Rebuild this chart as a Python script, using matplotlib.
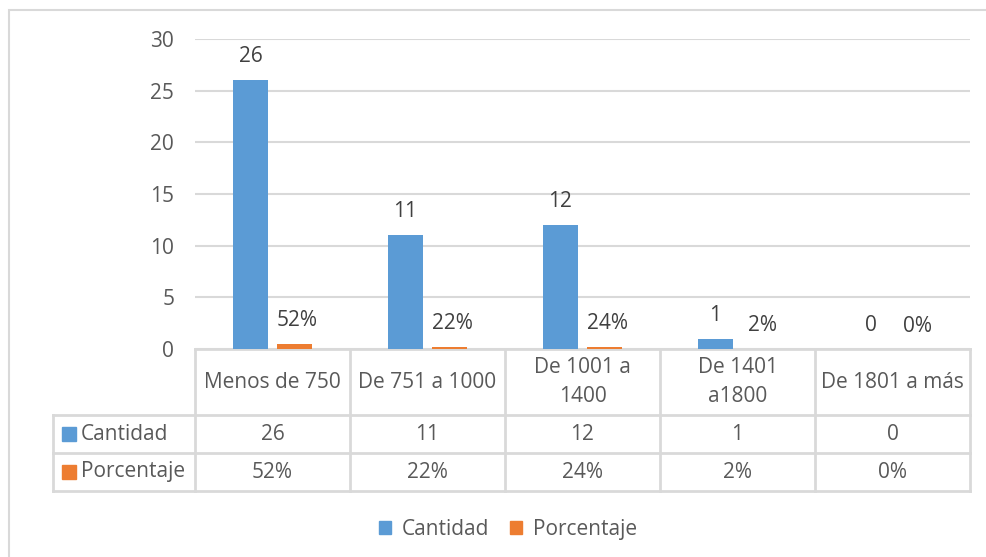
import matplotlib.pyplot as plt
import matplotlib.patches as patches
import numpy as np

plt.rcParams['font.family'] = ['Open Sans', 'DejaVu Sans']

categorias = ["Menos de 750", "De 751 a 1000", "De 1001 a\n1400", "De 1401\na1800", "De 1801 a más"]
cantidad = [26, 11, 12, 1, 0]
porcentaje = [0.52, 0.22, 0.24, 0.02, 0.0]

azul = '#5b9bd5'
naranja = '#ed7d31'
gris_txt = '#595959'
gris_lin = '#d9d9d9'
fs = 15

fig = plt.figure(figsize=(9.86, 5.57), dpi=100)
ax = fig.add_axes([195/986, 1 - 349/557, 775/986, 310/557])

x = np.arange(len(categorias))
ancho = 0.226
off = 0.142
b1 = ax.bar(x - off, cantidad, ancho, color=azul, zorder=3)
b2 = ax.bar(x + off, porcentaje, ancho, color=naranja, zorder=3)

# etiquetas sobre las barras
for xi, v in zip(x, cantidad):
    ax.annotate(str(v), (xi - off, v), xytext=(0, 17), textcoords='offset points',
                ha='center', va='center', fontsize=fs, color='#404040')
for xi, v in zip(x, porcentaje):
    ax.annotate(f"{v:.0%}", (xi + off, v), xytext=(2, 16.5), textcoords='offset points',
                ha='center', va='center', fontsize=fs, color='#404040')

ax.set_xlim(-0.5, len(categorias) - 0.5)
ax.set_ylim(0, 30)
ax.set_yticks(range(0, 31, 5))
ax.yaxis.grid(True, color=gris_lin, linewidth=1.5, zorder=0)
ax.set_xticks([])
ax.tick_params(axis='y', length=0, labelsize=fs, labelcolor=gris_txt, pad=15)
for s in ax.spines.values():
    s.set_visible(False)

# tabla de datos debajo del eje
tr = ax.get_xaxis_transform()
y_head = -66/310
y_c = -104/310
y_p = -142/310
x_lab = -0.5 - 142/155
lw = 2
kw = dict(transform=tr, color=gris_lin, linewidth=lw, clip_on=False)
ax.plot([-0.5, 4.5], [0, 0], **kw)
for yy in (y_head, y_c, y_p):
    ax.plot([x_lab, 4.5], [yy, yy], **kw)
for xx in np.arange(-0.5, 5, 1):
    ax.plot([xx, xx], [0, y_p], **kw)
ax.plot([x_lab, x_lab], [y_head, y_p], **kw)

for xi, cat in zip(x, categorias):
    ax.text(xi, y_head / 2, cat, transform=tr, ha='center', va='center',
            fontsize=fs, color=gris_txt, linespacing=1.45)
for xi, v, p in zip(x, cantidad, porcentaje):
    ax.text(xi, (y_head + y_c) / 2, str(v), transform=tr, ha='center', va='center',
            fontsize=fs, color=gris_txt)
    ax.text(xi, (y_c + y_p) / 2, f"{p:.0%}", transform=tr, ha='center', va='center',
            fontsize=fs, color=gris_txt)

for yy, nombre, col in (((y_head + y_c) / 2, "Cantidad", azul), ((y_c + y_p) / 2, "Porcentaje", naranja)):
    ax.add_patch(patches.Rectangle((x_lab + 9/155, yy - 0.022), 14/155, 0.045,
                                   transform=tr, color=col, clip_on=False))
    ax.text(x_lab + 28/155, yy, nombre, transform=tr, ha='left', va='center',
            fontsize=fs, color=gris_txt)

# leyenda
h = [patches.Patch(color=azul, label="Cantidad"), patches.Patch(color=naranja, label="Porcentaje")]
fig.legend(handles=h, loc='center', bbox_to_anchor=(0.515, 0.049), ncol=2, frameon=False,
           handlelength=0.6, handleheight=0.6, handletextpad=0.5, columnspacing=1.0,
           fontsize=fs, labelcolor=gris_txt)

# borde del gráfico
fig.patches.append(patches.Rectangle((9/986, -0.1), 1.2, 1 - 10/557 + 0.1, transform=fig.transFigure,
                                     fill=False, edgecolor=gris_lin, linewidth=1.5))

fig.savefig('out.png', dpi=100)
